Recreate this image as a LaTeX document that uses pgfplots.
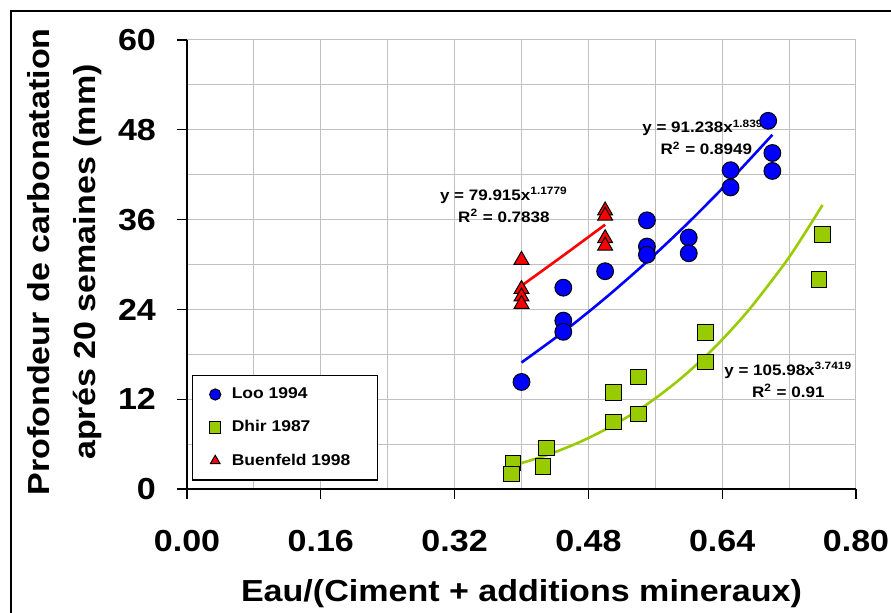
\documentclass[border=0pt]{standalone}
\usepackage{fontspec}
\setmainfont{Liberation Sans}[FakeStretch=1.12]
\usepackage{pgfplots}
\pgfplotsset{compat=1.18}
\definecolor{lime}{RGB}{153,204,0}
\definecolor{gridgray}{RGB}{192,192,192}
\begin{document}
\begin{tikzpicture}
\useasboundingbox (0,0) rectangle (445.5pt,306.5pt);
\draw[line width=0.7pt] (5.5pt,-5pt) rectangle (460pt,301pt);
\begin{axis}[
  at={(93.5pt,62pt)}, anchor=south west,
  scale only axis, width=334.5pt, height=224.5pt,
  xmin=0, xmax=0.8, ymin=0, ymax=60,
  xtick={0,0.16,0.32,0.48,0.64,0.80},
  minor xtick={0.08,0.24,0.40,0.56,0.72},
  ytick={0,12,24,36,48,60},
  minor ytick={6,18,30,42,54},
  grid=both,
  grid style={gridgray, line width=0.5pt},
  minor grid style={gridgray, line width=0.5pt},
  axis x line*=bottom, axis y line*=left,
  axis line style={black, line width=0.8pt, -},
  tick align=outside, major tick length=5pt, minor tick length=0pt,
  major tick style={black, line width=0.6pt},
  /pgf/number format/assume math mode=true,
  tick label style={font=\fontsize{15.2}{17}\selectfont\bfseries},
  xticklabel shift=12pt, yticklabel shift=7pt,
  xticklabel style={/pgf/number format/fixed, /pgf/number format/fixed zerofill, /pgf/number format/precision=2},
  legend style={at={(0.0075,0.254)}, anchor=north west, draw=black, line width=0.6pt,
    font=\fontsize{7.8}{9}\selectfont\bfseries, row sep=5.5pt, inner xsep=8.5pt, inner ysep=4pt,
    cells={anchor=west}},
  legend cell align=left,
  legend image post style={mark size=2.8pt},
]
\addplot[only marks, mark=*, mark size=4.2pt, mark options={fill=blue, draw=black, line width=0.5pt}]
coordinates {(0.40,14.3)(0.45,26.9)(0.45,22.5)(0.45,21.0)(0.50,29.1)(0.55,35.9)(0.55,32.4)(0.55,31.3)(0.60,33.6)(0.60,31.5)(0.65,40.3)(0.65,42.6)(0.695,49.2)(0.70,44.9)(0.70,42.5)};
\addlegendentry{\hspace{3.5pt}Loo 1994}
\addplot[only marks, mark=square*, mark size=3.8pt, mark options={fill=lime, draw=black, line width=0.5pt}]
coordinates {(0.39,3.5)(0.388,2.0)(0.43,5.5)(0.426,3.0)(0.51,12.9)(0.51,9.0)(0.54,15.0)(0.54,10.0)(0.62,20.9)(0.62,17.0)(0.76,34.0)(0.756,28.0)};
\addlegendentry{\hspace{3.5pt}Dhir 1987}
\addplot[only marks, mark=triangle*, mark size=4.3pt, mark options={fill=red, draw=black, line width=0.5pt}]
coordinates {(0.40,30.6)(0.40,26.7)(0.40,25.7)(0.40,24.7)(0.50,37.2)(0.50,36.5)(0.50,33.5)(0.50,32.5)};
\addlegendentry{\hspace{3.5pt}Buenfeld 1998\kern3pt\mbox{}}
% trend lines
\addplot[blue, line width=1.3pt, smooth, forget plot]
coordinates {(0.40,16.90)(0.45,20.99)(0.50,25.49)(0.55,30.37)(0.60,35.64)(0.65,41.30)(0.70,47.33)};
\addplot[red, line width=1.3pt, smooth, forget plot]
coordinates {(0.40,27.16)(0.45,31.20)(0.50,35.32)};
\addplot[lime, line width=1.3pt, smooth, forget plot]
coordinates {(0.388,3.07)(0.43,4.51)(0.47,6.29)(0.51,8.53)(0.55,11.31)(0.59,14.72)(0.63,18.81)(0.67,23.68)(0.71,29.42)(0.73,32.64)(0.76,37.95)};
\node[font=\fontsize{7.6}{11}\selectfont\bfseries, align=center] at (axis cs:0.379,37.95)
  {y = 79.915x\textsuperscript{1.1779}\\R\textsuperscript{2} = 0.7838};
\node[font=\fontsize{7.6}{11}\selectfont\bfseries, align=center] at (axis cs:0.621,47.0)
  {y = 91.238x\textsuperscript{1.8399}\\R\textsuperscript{2} = 0.8949};
\node[font=\fontsize{7.6}{11}\selectfont\bfseries, align=center] at (axis cs:0.719,14.6)
  {y = 105.98x\textsuperscript{3.7419}\\R\textsuperscript{2} = 0.91};
\end{axis}
\node[font=\fontsize{15.2}{17}\selectfont\bfseries, anchor=base] at (260.75pt,5.6pt)
  {Eau/(Ciment + additions mineraux)};
\node[font=\fontsize{15.2}{23}\selectfont\bfseries, align=center, rotate=90] at (32.5pt,175.5pt)
  {Profondeur de carbonatation\\aprés 20 semaines (mm)};
\end{tikzpicture}
\end{document}
